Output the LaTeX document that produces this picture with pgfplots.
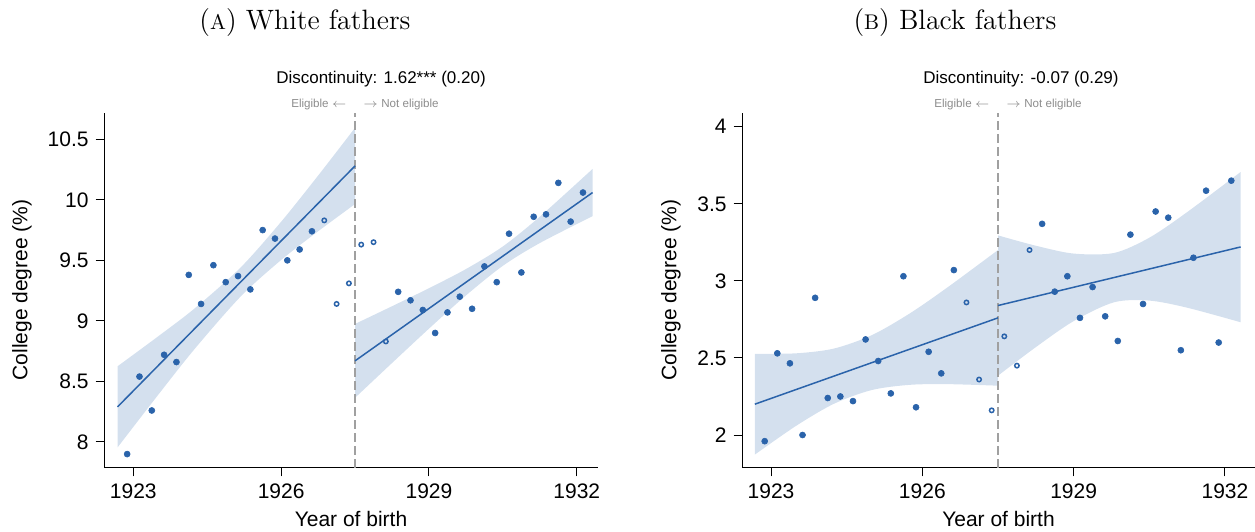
\documentclass[border=0pt]{standalone}
\usepackage{fontspec}
\setmainfont{Liberation Sans}
\usepackage{pgfplots}
\pgfplotsset{compat=1.18}
\usepgfplotslibrary{fillbetween}

\definecolor{dotblue}{RGB}{42,99,170}
\definecolor{bandblue}{RGB}{212,224,238}
\definecolor{dashgray}{RGB}{160,160,160}
\definecolor{txtgray}{RGB}{140,140,140}

\newcommand{\titlefont}{\fontfamily{lmr}\fontsize{14}{16}\selectfont}
\newcommand{\fakesc}[1]{{\fontsize{10.6}{12}\selectfont #1}}

\pgfplotsset{
  rdstyle/.style={
    scale only axis,
    axis x line=bottom, axis y line=left,
    axis line style={-, line width=0.5pt, black},
    tick align=outside,
    major tick length=4.2pt,
    tick style={black, line width=0.5pt},
    xtick={1923,1926,1929,1932},
    /pgf/number format/1000 sep={},
    /pgf/number format/assume math mode=true,
    tick label style={font=\fontsize{10.5}{12}\selectfont},
    clip=false,
  },
  filled/.style={only marks, mark=*, mark size=1.5pt, mark options={draw=dotblue, fill=dotblue, line width=0.3pt}},
  hollow/.style={only marks, mark=o, mark size=1.1pt, mark options={draw=dotblue, fill=white, line width=0.75pt}},
  fitline/.style={dotblue, line width=0.75pt, no marks},
  cutline/.style={dashgray, line width=1pt, dash pattern=on 4.5pt off 2pt, no marks},
}

\begin{document}
\begin{tikzpicture}[font=\fontsize{10.5}{12}\selectfont]

% ---------------- Panel A ----------------
\begin{axis}[rdstyle, at={(52pt,31.5pt)}, anchor=south west,
  width=247pt, height=177.5pt,
  xmin=1922.405, xmax=1932.43,
  ymin=7.785, ymax=10.717, ytick={8,8.5,9,9.5,10,10.5}]
\addplot[name path=aU1, draw=none, smooth] coordinates {(1922.68,8.625) (1923.5,8.871) (1924.25,9.105) (1925.18,9.442) (1926,9.819) (1926.75,10.200) (1927.5,10.595)};
\addplot[name path=aL1, draw=none, smooth] coordinates {(1922.68,7.955) (1923.5,8.387) (1924.25,8.771) (1925.18,9.202) (1926,9.503) (1926.75,9.740) (1927.5,9.965)};
\addplot[bandblue, draw=none] fill between[of=aU1 and aL1];
\addplot[name path=aU2, draw=none, smooth] coordinates {(1927.5,8.975) (1928.25,9.121) (1929,9.270) (1929.75,9.428) (1930.5,9.615) (1931.25,9.861) (1932.32,10.255)};
\addplot[name path=aL2, draw=none, smooth] coordinates {(1927.5,8.365) (1928.25,8.652) (1929,8.936) (1929.75,9.210) (1930.5,9.455) (1931.25,9.643) (1932.32,9.865)};
\addplot[bandblue, draw=none] fill between[of=aU2 and aL2];
\addplot[cutline] coordinates {(1927.5,7.785) (1927.5,10.717)};
\addplot[fitline] coordinates {(1922.68,8.29) (1927.5,10.28)};
\addplot[fitline] coordinates {(1927.5,8.67) (1932.32,10.06)};
\addplot[filled] coordinates {
(1922.875,7.90) (1923.125,8.54) (1923.375,8.26) (1923.625,8.72) (1923.875,8.66)
(1924.125,9.38) (1924.375,9.14) (1924.625,9.46) (1924.875,9.32) (1925.125,9.37)
(1925.375,9.26) (1925.625,9.75) (1925.875,9.68) (1926.125,9.50) (1926.375,9.59)
(1926.625,9.74)
(1928.375,9.24) (1928.625,9.17) (1928.875,9.09) (1929.125,8.90) (1929.375,9.07)
(1929.625,9.20) (1929.875,9.10) (1930.125,9.45) (1930.375,9.32) (1930.625,9.72)
(1930.875,9.40) (1931.125,9.86) (1931.375,9.88) (1931.625,10.14) (1931.875,9.82)
(1932.125,10.06)};
\addplot[hollow] coordinates {
(1926.875,9.83) (1927.125,9.14) (1927.375,9.31)
(1927.625,9.63) (1927.875,9.65) (1928.125,8.83)};
\end{axis}

% ---------------- Panel B ----------------
\begin{axis}[rdstyle, at={(371pt,31.5pt)}, anchor=south west,
  width=256.5pt, height=177.5pt,
  xmin=1922.425, xmax=1932.595,
  ymin=1.786, ymax=4.089, ytick={2,2.5,3,3.5,4}]
\addplot[name path=bU1, draw=none, smooth] coordinates {(1922.68,2.527) (1923.5,2.530) (1924.25,2.561) (1925,2.648) (1925.75,2.7885) (1926.5,2.958) (1927.5,3.20)};
\addplot[name path=bL1, draw=none, smooth] coordinates {(1922.68,1.873) (1923.5,2.060) (1924.25,2.203) (1925,2.292) (1925.75,2.3255) (1926.5,2.330) (1927.5,2.32)};
\addplot[bandblue, draw=none] fill between[of=bU1 and bL1];
\addplot[name path=bU2, draw=none, smooth] coordinates {(1927.5,3.295) (1928.25,3.228) (1929,3.177) (1929.8,3.181) (1930.5,3.280) (1931.25,3.446) (1932.31,3.7065)};
\addplot[name path=bL2, draw=none, smooth] coordinates {(1927.5,2.385) (1928.25,2.570) (1929,2.739) (1929.8,2.861) (1930.5,2.872) (1931.25,2.826) (1932.31,2.7315)};
\addplot[bandblue, draw=none] fill between[of=bU2 and bL2];
\addplot[cutline] coordinates {(1927.5,1.786) (1927.5,4.089)};
\addplot[fitline] coordinates {(1922.68,2.20) (1927.5,2.76)};
\addplot[fitline] coordinates {(1927.5,2.84) (1932.31,3.22)};
\addplot[filled] coordinates {
(1922.875,1.96) (1923.125,2.53) (1923.375,2.465) (1923.625,2.00) (1923.875,2.89)
(1924.125,2.24) (1924.375,2.25) (1924.625,2.22) (1924.875,2.62) (1925.125,2.48)
(1925.375,2.27) (1925.625,3.03) (1925.875,2.18) (1926.125,2.54) (1926.375,2.40)
(1926.625,3.07)
(1928.375,3.37) (1928.625,2.93) (1928.875,3.03) (1929.125,2.76) (1929.375,2.96)
(1929.625,2.77) (1929.875,2.61) (1930.125,3.30) (1930.375,2.85) (1930.625,3.45)
(1930.875,3.41) (1931.125,2.55) (1931.375,3.15) (1931.625,3.585) (1931.875,2.60)
(1932.125,3.65)};
\addplot[hollow] coordinates {
(1926.875,2.86) (1927.125,2.36) (1927.375,2.16)
(1927.625,2.64) (1927.875,2.45) (1928.125,3.20)};
\end{axis}

% ---------------- Text ----------------
\node at (152.5pt,254pt) {\titlefont (\fakesc{A}) White fathers};
\node at (477.5pt,254pt) {\titlefont (\fakesc{B}) Black fathers};

\node[font=\fontsize{8.5}{10}\selectfont] at (190.5pt,226pt) {Discontinuity: 1.62*** (0.20)};
\node[font=\fontsize{8.5}{10}\selectfont] at (510.5pt,226pt) {Discontinuity: -0.07 (0.29)};

\node[font=\fontsize{5.8}{7}\selectfont, text=txtgray, anchor=east, inner sep=0pt] at (173.5pt,213pt) {Eligible $\leftarrow$};
\node[font=\fontsize{5.8}{7}\selectfont, text=txtgray, anchor=west, inner sep=0pt] at (181.5pt,213pt) {$\rightarrow$ Not eligible};
\node[font=\fontsize{5.8}{7}\selectfont, text=txtgray, anchor=east, inner sep=0pt] at (495pt,213pt) {Eligible $\leftarrow$};
\node[font=\fontsize{5.8}{7}\selectfont, text=txtgray, anchor=west, inner sep=0pt] at (503pt,213pt) {$\rightarrow$ Not eligible};

\node[rotate=90] at (11pt,120.5pt) {College degree (\%)};
\node[rotate=90] at (335.5pt,120.5pt) {College degree (\%)};
\node[anchor=base] at (175.5pt,2pt) {Year of birth};
\node[anchor=base] at (499.25pt,2pt) {Year of birth};

\pgfresetboundingbox
\useasboundingbox (0,0) rectangle (627.5pt,265.5pt);
\end{tikzpicture}
\end{document}
